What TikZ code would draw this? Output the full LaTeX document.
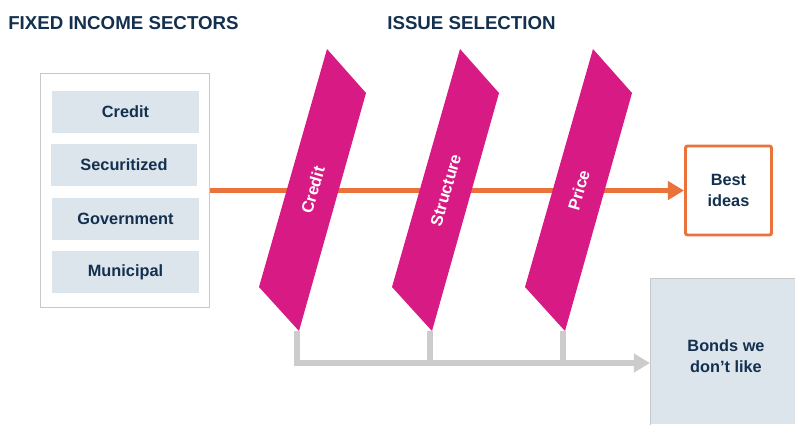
\documentclass[tikz,border=0pt]{standalone}
\usepackage{fontspec}
\setmainfont{Liberation Sans}
\usetikzlibrary{arrows.meta}
\definecolor{navytext}{HTML}{13304F}
\definecolor{sectorfill}{HTML}{DCE4EC}
\definecolor{issuepink}{HTML}{D81A84}
\definecolor{ideaorange}{HTML}{E9733A}
\definecolor{dropgray}{HTML}{CCCCCC}
\definecolor{framegray}{HTML}{C8C8C8}
\tikzset{
	title/.style={font=\bfseries\fontsize{13.3}{16}\selectfont,text=navytext,inner sep=0pt},
	boxtext/.style={font=\bfseries\fontsize{11.6}{14.8}\selectfont,text=navytext,align=center},
	sector/.style={boxtext,fill=sectorfill,minimum width=3.65cm,minimum height=1.05cm,inner sep=0pt},
	bestbox/.style={boxtext,draw=ideaorange,line width=2.1pt,fill=white,rounded corners=1.5pt,minimum width=2.15cm,minimum height=2.225cm},
	bandtext/.style={font=\bfseries\fontsize{11.8}{14}\selectfont,text=white,rotate=74,inner sep=0pt},
	bestarrow/.style={draw=ideaorange,line width=3.9pt,-{Triangle[length=11.4pt,width=12.8pt]}},
	droparrow/.style={draw=dropgray,line width=3.6pt},
}
\begin{document}
\begin{tikzpicture}[x=0.025cm,y=-0.025cm]
	\useasboundingbox (0,0) rectangle (795,424);
	\node[title,anchor=base west] (sectitle) at (8,29) {FIXED INCOME SECTORS};
	\node[title,anchor=base] (isstitle) at (471.5,29) {ISSUE SELECTION};
	\node[draw=framegray,line width=0.7pt,minimum width=4.2cm,minimum height=5.825cm] (sectors) at (125,190.5) {};
	\node[sector] (credit) at (125.5,112) {Credit};
	\node[sector] (secur) at (124,165) {Securitized};
	\node[sector] (govt) at (125.5,219) {Government};
	\node[sector] (muni) at (125.5,272) {Municipal};
	\node[bestbox] (best) at (728.5,190.5) {Best\\ideas};
	\node[fill=sectorfill,anchor=north west,minimum width=3.625cm,minimum height=3.65cm,inner sep=0pt] (bonds) at (650,278) {};
	\draw[framegray,line width=0.7pt] (bonds.south west) -- (bonds.north west) -- (bonds.north east);
	\node[boxtext] (bondstext) at (726,356) {Bonds we\\don’t like};
	\coordinate (dislike) at (650,363);
	\draw[bestarrow] (sectors) -- (best);
	\foreach \x/\name/\txt in {0/credit/Credit,133/struct/Structure,266/price/Price} {
		\fill[issuepink] (327+\x,49) -- (366+\x,93) -- (299+\x,331) -- (259+\x,287) -- cycle;
		\node[bandtext] (\name-band) at (312.75+\x,190) {\txt};
		\coordinate (\name-b) at (297+\x,331);
	}
	\draw[droparrow,-{Triangle[length=11.4pt,width=12.8pt]}] (credit-b) |- (dislike);
	\draw[droparrow] (struct-b) -- (struct-b |- dislike);
	\draw[droparrow] (price-b) -- (price-b |- dislike);
\end{tikzpicture}
\end{document}
